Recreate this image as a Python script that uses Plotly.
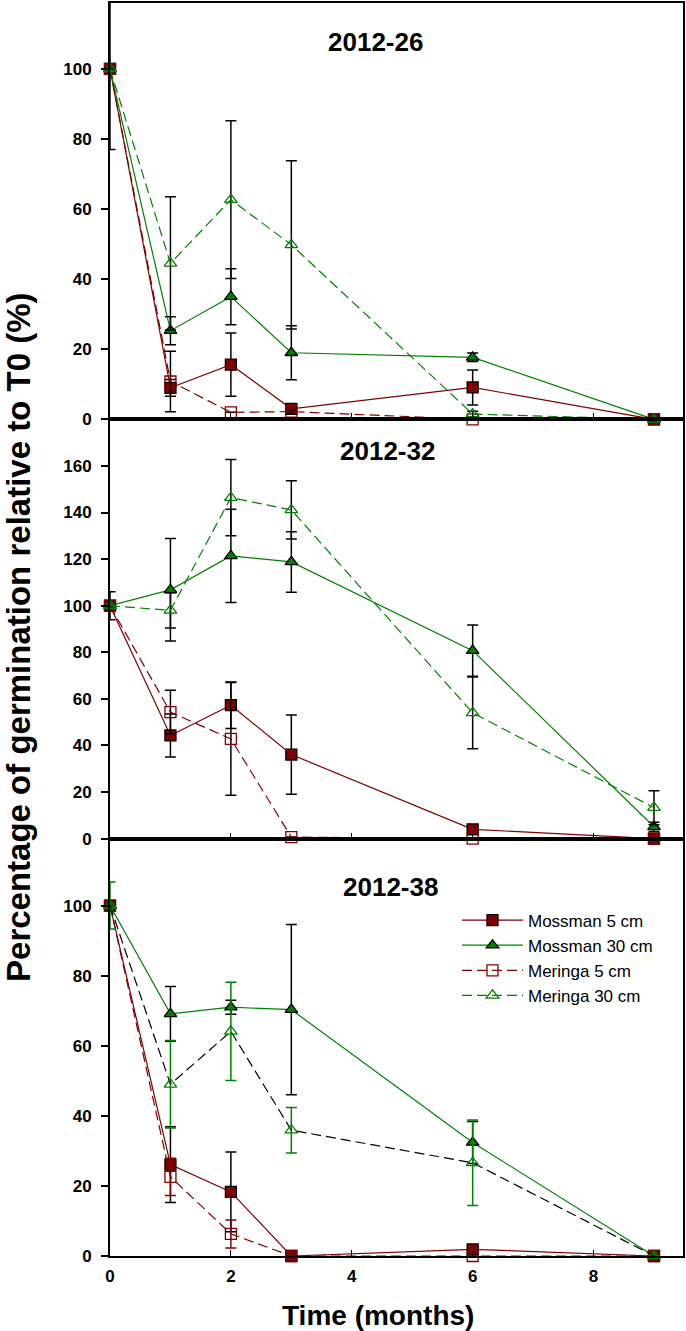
import plotly.graph_objects as go
from plotly.subplots import make_subplots

months = [0, 1, 2, 3, 6, 9]
panel_titles = ['2012-26', '2012-32', '2012-38']
series_names = ['Mossman 5 cm', 'Mossman 30 cm', 'Meringa 5 cm', 'Meringa 30 cm']

# 2012-26
p26_mossman5 = [100, 9.0, 15.6, 3.0, 9.1, 0]
p26_mossman5_err = [0, 2.4, 9.0, 1.0, 5.0, 0]
p26_mossman30 = [100, 25.3, 35.0, 19.0, 17.7, 0]
p26_mossman30_err = [0, 4.0, 8.0, 7.7, 1.2, 0]
p26_meringa5 = [100, 10.8, 2.0, 2.2, 0, 0]
p26_meringa5_err = [0, 8.6, 0, 0.5, 0, 0]
p26_meringa30 = [100, 44.5, 62.7, 49.8, 1.5, 0]
p26_meringa30_err = [23, 19.0, 22.5, 24.0, 0.8, 0]

# 2012-32
p32_mossman5 = [100, 44.3, 57.3, 36.1, 4.0, 0]
p32_mossman5_err = [0, 9.2, 10.0, 17.0, 1.5, 0.5]
p32_mossman30 = [100, 106.8, 121.4, 118.8, 80.7, 5.1]
p32_mossman30_err = [6, 22.0, 20.0, 13.0, 11.0, 2.0]
p32_meringa5 = [100, 54.3, 42.8, 0.7, 0, 0]
p32_meringa5_err = [0, 9.4, 24.2, 0, 0, 0]
p32_meringa30 = [100, 98.0, 146.4, 141.1, 54.0, 13.3]
p32_meringa30_err = [0, 7.6, 16.4, 12.5, 15.4, 7.3]

# 2012-38
p38_mossman5 = [100, 26.1, 18.3, 0, 1.9, 0]
p38_mossman5_err = [0, 10.8, 11.4, 0, 0.5, 0]
p38_mossman30 = [100, 69.1, 71.0, 70.3, 32.4, 0]
p38_mossman30_err = [0, 7.8, 2.0, 24.3, 6.0, 0]
p38_meringa5 = [100, 22.6, 6.3, 0, 0, 0]
p38_meringa5_err = [0, 5.3, 4.0, 0, 0, 0]
p38_meringa30 = [100, 49.0, 64.1, 35.9, 26.6, 0]
p38_meringa30_err = [6.7, 12.5, 14.0, 6.5, 12.2, 0]

RED = '#800000'
GREEN = '#008000'
FONT = 'Liberation Sans, Arial, sans-serif'

W, H = 686, 1331
L, R, T, B = 110, 3, 1, 75
plot_w = W - L - R
plot_h = H - T - B


def px_x(px):
    return (px - L) / plot_w


def px_y(py):
    return (H - B - py) / plot_h


panels = [
    [(p26_mossman5, p26_mossman5_err), (p26_mossman30, p26_mossman30_err),
     (p26_meringa5, p26_meringa5_err), (p26_meringa30, p26_meringa30_err)],
    [(p32_mossman5, p32_mossman5_err), (p32_mossman30, p32_mossman30_err),
     (p32_meringa5, p32_meringa5_err), (p32_meringa30, p32_meringa30_err)],
    [(p38_mossman5, p38_mossman5_err), (p38_mossman30, p38_mossman30_err),
     (p38_meringa5, p38_meringa5_err), (p38_meringa30, p38_meringa30_err)],
]

styles = [
    dict(color=RED, dash='solid', symbol='square', fill=RED, edge='black'),
    dict(color=GREEN, dash='solid', symbol='triangle-up', fill=GREEN, edge='black'),
    dict(color=RED, dash='10px,5px', symbol='square-open', fill=RED, edge=RED),
    dict(color=GREEN, dash='10px,5px', symbol='triangle-up-open', fill=GREEN, edge=GREEN),
]

fig = make_subplots(rows=3, cols=1, shared_xaxes=True, vertical_spacing=0)

for p, panel in enumerate(panels):
    for s, (vals, errs) in enumerate(panel):
        st = styles[s]
        line_color = st['color']
        err_color = 'black'
        # the 2012-38 panel has a black line and green bars for Meringa 30 cm
        if p == 2 and s == 3:
            line_color = 'black'
            err_color = GREEN
        if p == 2 and s == 2:
            err_color = RED
        fig.add_trace(
            go.Scatter(x=months, y=vals,
                       mode='lines+markers',
                       name=series_names[s],
                       legendgroup=series_names[s],
                       showlegend=(p == 0),
                       line=dict(color=line_color, width=1.2, dash=st['dash']),
                       marker=dict(symbol=st['symbol'], size=11, color=st['fill'],
                                   line=dict(color=st['edge'], width=1.3)),
                       error_y=dict(type='data', array=errs, visible=True,
                                    color=err_color, thickness=1.5, width=5.5),
                       cliponaxis=False),
            row=p + 1, col=1)

domains = [[px_y(418), 1], [px_y(838), px_y(418)], [0, px_y(838)]]
yranges = [[0, 118.8], [0, 180], [0, 119.1]]
ytickvals = [[0, 20, 40, 60, 80, 100], [0, 20, 40, 60, 80, 100, 120, 140, 160],
             [0, 20, 40, 60, 80, 100]]

for i in range(3):
    n = '' if i == 0 else str(i + 1)
    fig.layout['yaxis' + n].update(
        domain=domains[i], range=yranges[i], tickvals=ytickvals[i],
        showline=True, linecolor='black', linewidth=2, mirror=True,
        ticks='outside', ticklen=7, tickwidth=1.5, tickcolor='black',
        showgrid=False, zeroline=False, ticklabelstandoff=6,
        tickfont=dict(family=FONT, size=17, weight='bold', color='black'))
    fig.layout['xaxis' + n].update(
        range=[0, 9.48], tickvals=[0, 2, 4, 6, 8],
        showline=True, linecolor='black', linewidth=2, mirror=True,
        ticks='inside', ticklen=6, tickwidth=1.2, tickcolor='black',
        showgrid=False, zeroline=False, showticklabels=(i == 2),
        ticklabelstandoff=4,
        tickfont=dict(family=FONT, size=17, weight='bold', color='black'))

title_pos = [(375, 40), (387, 450), (390, 886)]
for t, (tx, ty) in zip(panel_titles, title_pos):
    fig.add_annotation(text=t, x=px_x(tx), y=px_y(ty), xref='paper', yref='paper',
                       showarrow=False, xanchor='center', yanchor='middle',
                       font=dict(family=FONT, size=26, weight='bold', color='black'))

fig.add_annotation(text='Time (months)', x=px_x(378), y=px_y(1316),
                   xref='paper', yref='paper', showarrow=False,
                   xanchor='center', yanchor='middle',
                   font=dict(family=FONT, size=28, weight='bold', color='black'))
fig.add_annotation(text='Percentage of germination relative to T0 (%)',
                   x=px_x(19), y=px_y(636), xref='paper', yref='paper',
                   showarrow=False, textangle=-90,
                   xanchor='center', yanchor='middle',
                   font=dict(family=FONT, size=33, weight='bold', color='black'))

fig.update_layout(
    width=W, height=H,
    margin=dict(l=L, r=R, t=T, b=B),
    plot_bgcolor='white', paper_bgcolor='white',
    legend=dict(x=px_x(457), y=px_y(902), xanchor='left', yanchor='top',
                font=dict(family=FONT, size=17, color='black'),
                bgcolor='rgba(0,0,0,0)', itemwidth=61, tracegroupgap=0),
)

# page body has an 8px default margin; drop it so the figure fills the window
fig.write_html("out.html",
               config={'displayModeBar': False},
               post_script="document.body.style.margin='0px';"
                           "document.body.style.overflow='hidden';")
